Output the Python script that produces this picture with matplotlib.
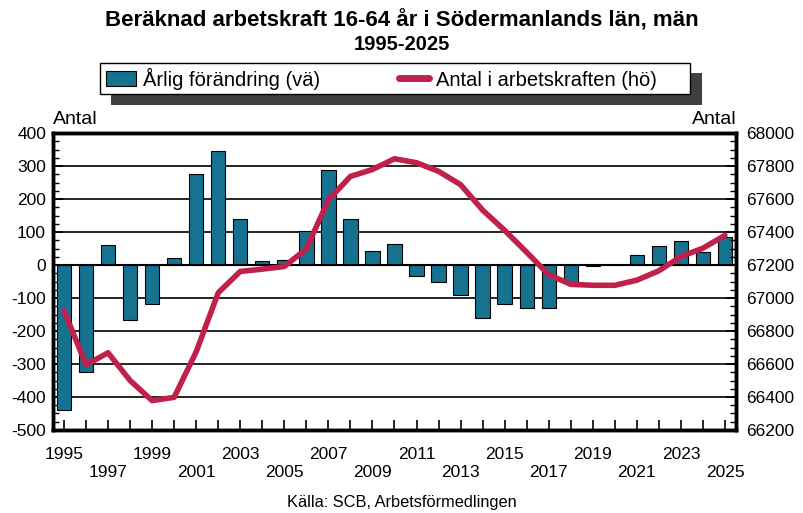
import matplotlib.pyplot as plt
from matplotlib.patches import Rectangle
from matplotlib.ticker import MultipleLocator

plt.rcParams['font.family'] = ['Liberation Sans', 'DejaVu Sans']
plt.rcParams['axes.unicode_minus'] = False

years = list(range(1995, 2026))
arlig_forandring = [-440, -325, 62, -168, -118, 22, 277, 347, 138, 12, 15,
                    103, 289, 139, 41, 63, -32, -51, -90, -160, -117, -130,
                    -130, -50, -3, 0, 31, 59, 74, 40, 86]
antal_arbetskraft = [66924, 66595, 66668, 66500, 66378, 66398, 66674, 67032,
                     67161, 67175, 67191, 67298, 67594, 67737, 67779, 67844,
                     67820, 67768, 67687, 67533, 67410, 67277, 67141, 67083,
                     67077, 67077, 67108, 67165, 67251, 67302, 67380]

bar_color = '#17728F'
line_color = '#C0204C'

W, H = 804, 513
fig = plt.figure(figsize=(W / 100, H / 100), dpi=100)
ax = fig.add_axes([0.0659, 0.1618, 0.8495, 0.5789])

ax.bar(years, arlig_forandring, width=0.65, color=bar_color,
       edgecolor='black', linewidth=0.8, zorder=3)
ax.axhline(0, color='black', linewidth=1.5, zorder=4)
ax.set_xlim(1994.5, 2025.5)
ax.set_ylim(-500, 400)
ax.yaxis.set_major_locator(MultipleLocator(100))
ax.yaxis.set_minor_locator(MultipleLocator(25))
ax.grid(axis='y', color='black', linewidth=1.2)
ax.set_axisbelow(True)

# odd years labelled, staggered on two rows
ax.set_xticks(years)
xlabels = []
for i, y in enumerate(years):
    if i % 2 == 1:
        xlabels.append('')
    elif i % 4 == 0:
        xlabels.append(str(y))
    else:
        xlabels.append('\n' + str(y))
ax.set_xticklabels(xlabels, fontsize=12.5, linespacing=1.3)
ax.tick_params(axis='x', direction='in', length=7, width=1.2, pad=12)
ax.tick_params(axis='y', which='major', direction='in', length=7, width=1.2,
               labelsize=12.5, pad=5)
ax.tick_params(axis='y', which='minor', direction='in', length=4, width=1.0)

ax2 = ax.twinx()
ax2.plot(years, antal_arbetskraft, color=line_color, linewidth=4,
         solid_capstyle='round', solid_joinstyle='round', zorder=5)
ax2.set_ylim(66200, 68000)
ax2.yaxis.set_major_locator(MultipleLocator(200))
ax2.yaxis.set_minor_locator(MultipleLocator(50))
ax2.tick_params(axis='y', which='major', direction='in', length=7, width=1.2,
                labelsize=12.5, pad=7)
ax2.tick_params(axis='y', which='minor', direction='in', length=4, width=1.0)

for a in (ax, ax2):
    for s in a.spines.values():
        s.set_linewidth(2.5)
        s.set_color('black')

fig.text(0.5, 1 - 21 / H, 'Beräknad arbetskraft 16-64 år i Södermanlands län, män',
         ha='center', va='center', fontsize=16, fontweight='bold')
fig.text(0.5, 1 - 45 / H, '1995-2025', ha='center', va='center',
         fontsize=14.5, fontweight='bold')

fig.text(53 / W, 1 - 120 / H, 'Antal', ha='left', va='center', fontsize=14)
fig.text(737 / W, 1 - 120 / H, 'Antal', ha='right', va='center', fontsize=14)

fig.text(0.5, 1 - 502 / H, 'Källa: SCB, Arbetsförmedlingen', ha='center',
         va='center', fontsize=11.8)

# legend box with drop shadow
shadow = Rectangle((111 / W, 1 - 105 / H), 591 / W, 32 / H,
                   transform=fig.transFigure, facecolor='#404040',
                   edgecolor='none', zorder=3)
box = Rectangle((100 / W, 1 - 94 / H), 590 / W, 31 / H,
                transform=fig.transFigure, facecolor='white',
                edgecolor='black', linewidth=1.0, zorder=4)
fig.patches.extend([shadow, box])

handles = [Rectangle((0, 0), 1, 1, facecolor=bar_color, edgecolor='black',
                     linewidth=0.8),
           plt.Line2D([0], [0], color=line_color, linewidth=5,
                      solid_capstyle='round')]
labels = ['Årlig förändring (vä)', 'Antal i arbetskraften (hö)']
leg = fig.legend(handles, labels, loc='center left',
                 bbox_to_anchor=(106 / W, 1 - 78.5 / H),
                 ncol=2, borderaxespad=0, borderpad=0, fontsize=14.5,
                 frameon=False, handlelength=1.5, handleheight=0.8,
                 handletextpad=0.35, columnspacing=3.9)
leg.set_zorder(6)

fig.savefig('out.png', dpi=100)
